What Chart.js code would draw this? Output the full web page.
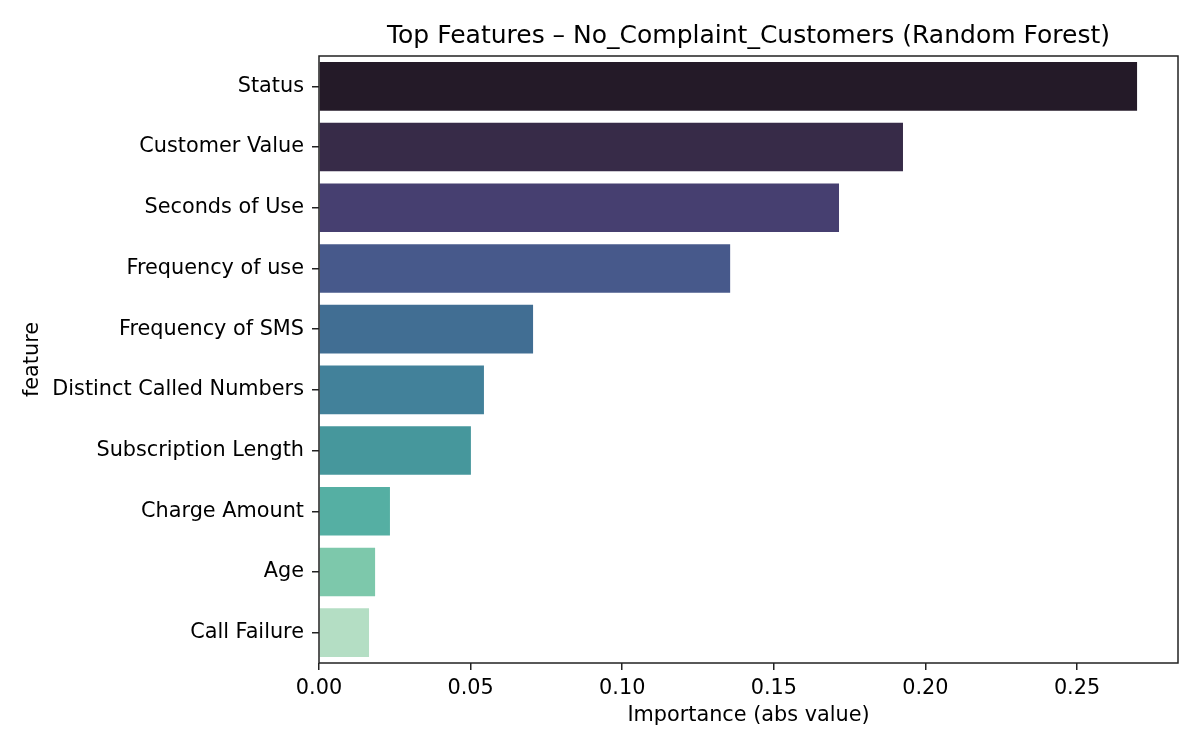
<!DOCTYPE html>
<html>
<head>
<meta charset="utf-8">
<script src="https://cdn.jsdelivr.net/npm/chart.js@4"></script>
<style>
  html, body { margin: 0; padding: 0; background: #fff; }
  canvas { display: block; }
</style>
</head>
<body>
<canvas id="chart" width="1200" height="750"></canvas>
<script>
const features = ["Status", "Customer Value", "Seconds of Use", "Frequency of use", "Frequency of SMS",
  "Distinct Called Numbers", "Subscription Length", "Charge Amount", "Age", "Call Failure"];
const importance = [0.2698, 0.1926, 0.1715, 0.1356, 0.0706, 0.0544, 0.0501, 0.0234, 0.0185, 0.0165];
const barColors = ["#241a28", "#372b48", "#463f70", "#47598b", "#416e93",
  "#42819a", "#46979c", "#55afa3", "#7dc8ab", "#b4dec4"];
const xTicks = [0, 0.05, 0.10, 0.15, 0.20, 0.25];

const FONT = "'DejaVu Sans', sans-serif";

// black frame round the plot area, like matplotlib spines
const frame = {
  id: 'frame',
  afterDraw(chart) {
    const a = chart.chartArea, c = chart.ctx;
    c.save();
    c.strokeStyle = '#222';
    c.lineWidth = 1.5;
    c.strokeRect(a.left, a.top, a.right - a.left, a.bottom - a.top);
    c.restore();
  }
};

const ctx = document.getElementById('chart').getContext('2d');
new Chart(ctx, {
  type: 'bar',
  data: {
    labels: features,
    datasets: [{
      data: importance,
      backgroundColor: barColors,
      categoryPercentage: 1.0,
      barPercentage: 0.8
    }]
  },
  options: {
    indexAxis: 'y',
    responsive: false,
    animation: false,
    layout: { padding: { top: 0, right: 22, bottom: 0, left: 0 } },
    plugins: {
      legend: { display: false },
      tooltip: { enabled: false },
      title: { display: false }
    },
    scales: {
      x: {
        min: 0,
        max: 0.2833,
        border: { display: false },
        grid: { drawOnChartArea: false, drawTicks: true, tickLength: 7, color: '#222', lineWidth: 1.5 },
        afterBuildTicks(scale) { scale.ticks = xTicks.map(v => ({ value: v })); },
        afterFit(scale) { scale.height = 87; },
        ticks: {
          color: '#000',
          padding: 6,
          font: { family: FONT, size: 20.8 },
          callback: v => Number(v).toFixed(2)
        },
        title: {
          display: true,
          text: 'Importance (abs value)',
          color: '#000',
          font: { family: FONT, size: 20.8 },
          padding: { top: 4, bottom: 21.5 }
        }
      },
      // top axis used only to carry the title centred over the plot area
      xTitle: {
        position: 'top',
        axis: 'x',
        type: 'linear',
        min: 0,
        max: 1,
        border: { display: false },
        grid: { display: false },
        ticks: { display: false },
        afterFit(scale) { scale.height = 56; },
        title: {
          display: true,
          text: 'Top Features \u2013 No_Complaint_Customers (Random Forest)',
          color: '#000',
          font: { family: FONT, size: 25 },
          padding: { top: 21, bottom: 4 }
        }
      },
      y: {
        border: { display: false },
        grid: { drawOnChartArea: false, drawTicks: true, tickLength: 7, color: '#222', lineWidth: 1.5, offset: false },
        afterFit(scale) { scale.width = 319; },
        ticks: {
          color: '#000',
          padding: 8,
          font: { family: FONT, size: 20.8 }
        },
        title: {
          display: true,
          text: 'feature',
          color: '#000',
          font: { family: FONT, size: 20.8 },
          padding: { top: 20.5, bottom: 4 }
        }
      }
    }
  },
  plugins: [frame]
});
</script>
</body>
</html>
